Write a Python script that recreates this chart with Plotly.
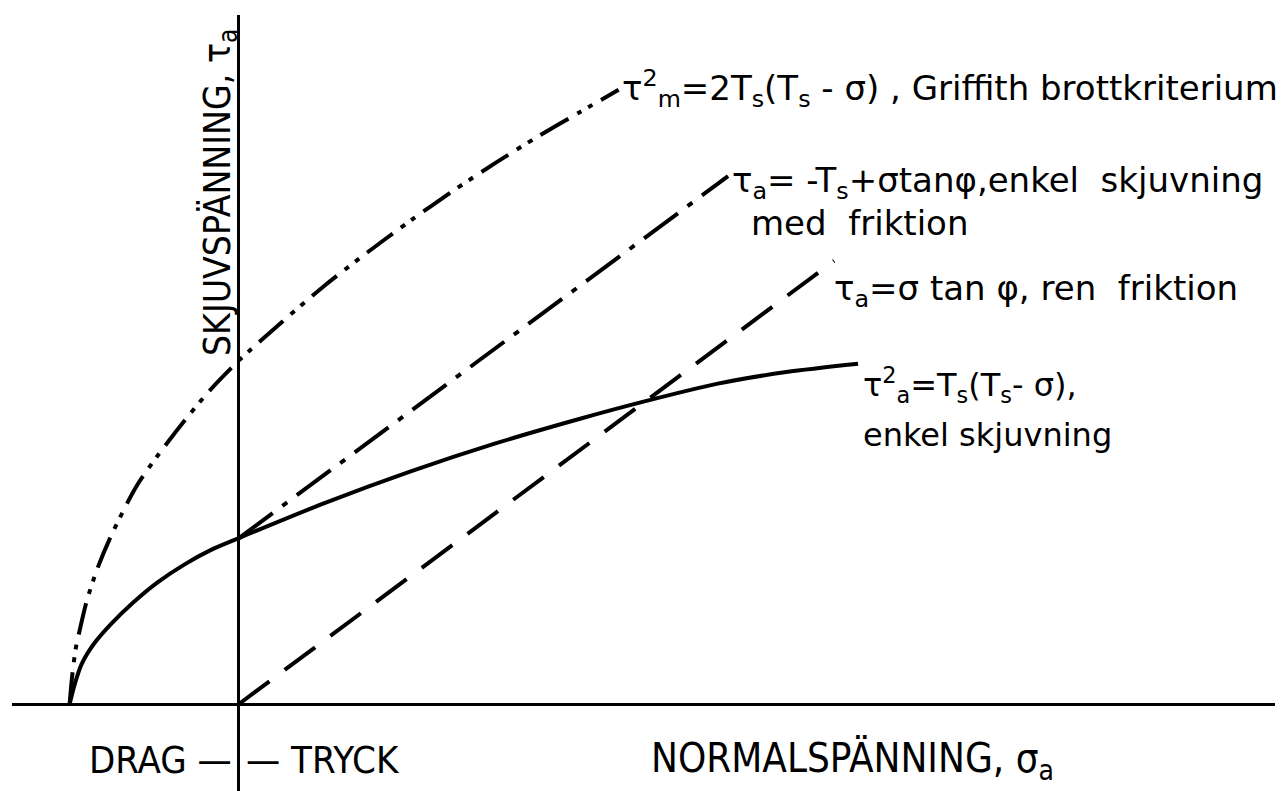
import plotly.graph_objects as go

# ---- data (normal stress sigma and shear stress tau, in units of T_s) ----
griffith_sigma = [-0.99, -0.975, -0.955, -0.93, -0.89, -0.83, -0.74, -0.6, -0.48, -0.3, -0.17, 0.0,
                  0.25, 0.5, 0.75, 1.0, 1.25, 1.5, 1.75, 2.0, 2.22]
griffith_tau = [0.0, 0.17, 0.33, 0.45, 0.62, 0.81, 1.03, 1.31, 1.49, 1.73, 1.89, 2.07,
                2.30, 2.52, 2.72, 2.91, 3.09, 3.26, 3.42, 3.57, 3.70]

shear_sigma = [-0.99, -0.96, -0.92, -0.85, -0.75, -0.62, -0.48, -0.32, -0.16, 0.0,
               0.5, 1.0, 1.5, 2.0, 2.36, 2.8, 3.2, 3.62]
shear_tau = [0.0, 0.12, 0.24, 0.36, 0.48, 0.61, 0.73, 0.84, 0.93, 1.0,
             1.21, 1.40, 1.57, 1.72, 1.82, 1.93, 2.0, 2.05]

friction_shear_sigma = [0.0, 2.86]
friction_shear_tau = [1.0, 3.18]

pure_friction_sigma = [0.0, 3.48]
pure_friction_tau = [0.0, 2.67]

x_title = "NORMALSPÄNNING, σ<sub>a</sub>"
y_title = "SKJUVSPÄNNING, τ<sub>a</sub>"

FONT = "Liberation Sans Narrow, DejaVu Sans Condensed, Liberation Sans, sans-serif"
LFONT = "DejaVu Sans, sans-serif"

fig = go.Figure()
fig.add_trace(go.Scatter(x=griffith_sigma, y=griffith_tau, mode="lines",
                         line=dict(color="black", width=4, dash="32px,10px,5px,8px,5px,10px", shape="spline", smoothing=0.8),
                         showlegend=False, hoverinfo="skip"))
fig.add_trace(go.Scatter(x=shear_sigma, y=shear_tau, mode="lines",
                         line=dict(color="black", width=4, shape="spline", smoothing=0.8),
                         showlegend=False, hoverinfo="skip"))
fig.add_trace(go.Scatter(x=friction_shear_sigma, y=friction_shear_tau, mode="lines",
                         line=dict(color="black", width=4, dash="42px,12px,6px,12px"),
                         showlegend=False, hoverinfo="skip"))
fig.add_trace(go.Scatter(x=pure_friction_sigma, y=pure_friction_tau, mode="lines",
                         line=dict(color="black", width=4, dash="38px,19px"),
                         showlegend=False, hoverinfo="skip"))

ann = []
def label(x, y, text, xanchor="left", size=33, font=LFONT):
    ann.append(dict(x=x, y=y, xref="x", yref="y", text=text, showarrow=False,
                    xanchor=xanchor, yanchor="middle",
                    font=dict(family=font, size=size, color="black")))

label(2.23, 3.71, "τ<sup>2</sup><sub>m</sub>=2T<sub>s</sub>(T<sub>s</sub> - σ) , Griffith brottkriterium", size=34)
label(2.87, 3.14, "τ<sub>a</sub>= -T<sub>s</sub>+σtanφ,enkel  skjuvning", size=34)
label(2.98, 2.90, "med  friktion", size=34)
label(3.47, 2.49, "τ<sub>a</sub>=σ tan φ, ren  friktion", size=34)
label(3.64, 1.92, "τ<sup>2</sup><sub>a</sub>=T<sub>s</sub>(T<sub>s</sub>- σ),", size=32)
label(3.64, 1.62, "enkel skjuvning", size=32)
label(-0.03, -0.34, "DRAG —", xanchor="right", size=38, font=FONT)
label(0.03, -0.34, "— TRYCK", xanchor="left", size=38, font=FONT)
label(2.4, -0.34, x_title, xanchor="left", size=40, font=FONT)
ann.append(dict(x=-0.115, y=3.08, xref="x", yref="y", text=y_title, showarrow=False,
                textangle=-90, xanchor="center", yanchor="middle",
                font=dict(family=FONT, size=37, color="black")))

fig.update_layout(
    width=1288, height=791,
    margin=dict(l=4, r=21, t=7, b=8),
    paper_bgcolor="white", plot_bgcolor="white",
    annotations=ann,
    xaxis=dict(range=[-1.327, 6.058], showgrid=False, showticklabels=False, ticks="",
               zeroline=True, zerolinecolor="black", zerolinewidth=3),
    yaxis=dict(range=[-0.524, 4.151], showgrid=False, showticklabels=False, ticks="",
               zeroline=True, zerolinecolor="black", zerolinewidth=3),
)
fig.write_html("out.html")
